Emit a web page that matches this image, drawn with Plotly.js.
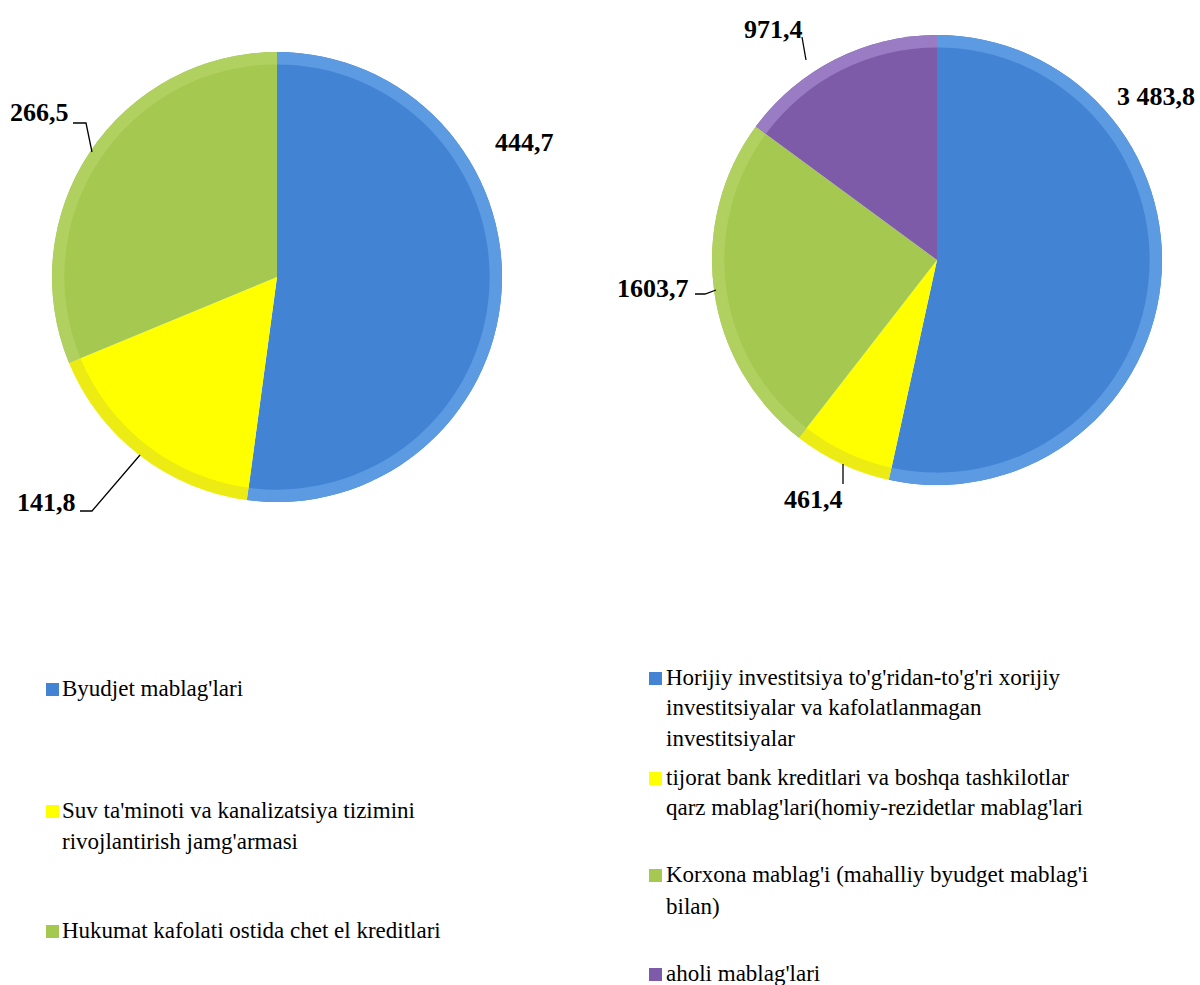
<!DOCTYPE html>
<html>
<head>
<meta charset="utf-8">
<script src="https://cdn.plot.ly/plotly-3.0.1.min.js"></script>
<style>
html,body{margin:0;padding:0;background:#fff;}
#chart{width:1200px;height:985px;}
</style>
</head>
<body>
<div id="chart"></div>
<script>
// ---- Data ----
const leftCategories = [
  "Byudjet mablag'lari",
  "Suv ta'minoti va kanalizatsiya tizimini<br>rivojlantirish jamg'armasi",
  "Hukumat kafolati ostida chet el kreditlari"
];
const leftValues = [444.7, 141.8, 266.5];
const leftLabels = ["444,7", "141,8", "266,5"];

const rightCategories = [
  "Horijiy investitsiya to'g'ridan-to'g'ri xorijiy<br>investitsiyalar va kafolatlanmagan<br>investitsiyalar",
  "tijorat bank kreditlari va boshqa tashkilotlar<br>qarz mablag'lari(homiy-rezidetlar mablag'lari",
  "Korxona mablag'i (mahalliy byudget mablag'i<br>bilan)",
  "aholi mablag'lari"
];
const rightValues = [3483.8, 461.4, 1603.7, 971.4];
const rightLabels = ["3 483,8", "461,4", "1603,7", "971,4"];

// ---- Styles ----
const W = 1200, H = 985;
const px = x => x / W;
const py = y => 1 - y / H;
const leftColors = ['#4383d4', '#ffff00', '#a4c850'];
const leftRim = ['#5c9ae2', '#ecec14', '#b0d060'];
const rightColors = ['#4383d4', '#ffff00', '#a4c850', '#7e5ba8'];
const rightRim = ['#5c9ae2', '#ecec14', '#b0d060', '#9a7cc4'];

const leftDomain = {x: [px(52), px(502)], y: [py(502), py(52)]};
const rightDomain = {x: [px(712), px(1162)], y: [py(485), py(35)]};

function pieTrace(cats, vals, colors, domain, hole) {
  return {
    type: 'pie',
    labels: cats,
    values: vals,
    sort: false,
    direction: 'clockwise',
    rotation: 0,
    domain: domain,
    hole: hole,
    textinfo: 'none',
    hoverinfo: 'label+value',
    showlegend: false,
    marker: {colors: colors, line: {width: 0}}
  };
}

const data = [
  pieTrace(leftCategories, leftValues, leftColors, leftDomain, 0),
  pieTrace(leftCategories, leftValues, leftRim, leftDomain, 0.945),
  pieTrace(rightCategories, rightValues, rightColors, rightDomain, 0),
  pieTrace(rightCategories, rightValues, rightRim, rightDomain, 0.945)
];

const serif = 'Liberation Serif';
const labelFont = {family: serif, size: 26, color: '#000'};
const legendFont = {family: serif, size: 23, color: '#000'};

// data label positions (pixel centers)
const leftLabelPos = [[524, 143], [46, 502], [39, 112]];
const rightLabelPos = [[1156, 96], [813, 499], [653, 288], [773, 30]];

const annotations = [];
function addLabels(labels, pos) {
  labels.forEach((t, i) => {
    annotations.push({
      xref: 'paper', yref: 'paper', x: px(pos[i][0]), y: py(pos[i][1]),
      xanchor: 'center', yanchor: 'middle', showarrow: false,
      text: '<b>' + t + '</b>', font: labelFont
    });
  });
}
addLabels(leftLabels, leftLabelPos);
addLabels(rightLabels, rightLabelPos);

// legends (per-line placement)
const leftLegendY = [[688], [810, 841], [930]];
const rightLegendY = [[677, 707, 738], [777, 807], [874, 906], [973]];
const shapes = [];
function addLegend(cats, colors, ys, xSq, xText) {
  cats.forEach((c, i) => {
    const lines = c.split('<br>');
    lines.forEach((ln, j) => {
      annotations.push({
        xref: 'paper', yref: 'paper', x: px(xText), y: py(ys[i][j]),
        xanchor: 'left', yanchor: 'middle', showarrow: false,
        text: ln, font: legendFont
      });
    });
    const y0 = ys[i][0];
    shapes.push({
      type: 'rect', xref: 'paper', yref: 'paper',
      x0: px(xSq), x1: px(xSq + 13), y0: py(y0 - 5), y1: py(y0 + 8),
      fillcolor: colors[i], line: {width: 0}
    });
  });
}
addLegend(leftCategories, leftColors, leftLegendY, 46, 60);
addLegend(rightCategories, rightColors, rightLegendY, 649, 664);

// leader lines
const leaders = [
  [[73, 123], [86, 123], [92, 152]],
  [[80, 511], [92, 511], [140, 455]],
  [[695, 294], [705, 294], [716, 290]],
  [[843, 464], [843, 484]],
  [[802, 37], [806, 60]]
];
leaders.forEach(pts => {
  const d = pts.map((p, k) => (k ? 'L' : 'M') + px(p[0]) + ',' + py(p[1])).join(' ');
  shapes.push({type: 'path', xref: 'paper', yref: 'paper', path: d,
    line: {color: '#000', width: 1.3}});
});

const layout = {
  width: W, height: H,
  margin: {l: 0, r: 0, t: 0, b: 0},
  paper_bgcolor: '#fff',
  showlegend: false,
  font: {family: serif, color: '#000'},
  annotations: annotations,
  shapes: shapes
};

Plotly.newPlot('chart', data, layout, {displayModeBar: false, staticPlot: true});
</script>
</body>
</html>
